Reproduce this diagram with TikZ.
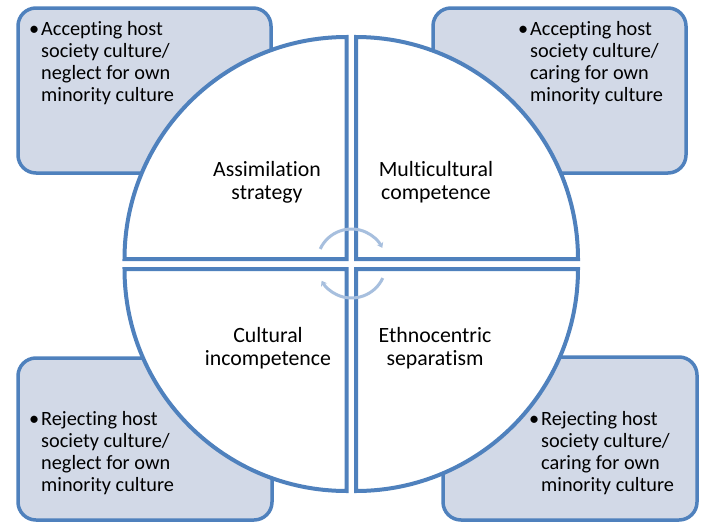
\documentclass[tikz,border=0pt]{standalone}
\usepackage{fontspec}
\setmainfont{Carlito}[Ligatures=NoCommon]
\usetikzlibrary{arrows.meta}
\definecolor{MainBlue}{RGB}{79,129,189}
\definecolor{BoxFill}{RGB}{210,217,231}
\definecolor{ArrowBlue}{RGB}{167,191,222}
\tikzset{
  cornerbox/.style={draw=MainBlue, fill=BoxFill, line width=3.5pt, rounded corners=18pt},
  quad/.style={draw=MainBlue, fill=white, line width=4pt, line join=miter},
  cyclearrow/.style={draw=ArrowBlue, line width=3pt, -{Stealth[length=5pt,width=7pt]}},
  bullettext/.style={align=left, inner sep=0pt, anchor=west, text=black, font=\fontsize{20.3}{22}\selectfont},
  quadlabel/.style={align=center, inner sep=0pt, text=black, font=\fontsize{21.8}{23}\selectfont}
}
\newcommand{\bul}{\llap{•\hspace{2pt}}}
\begin{document}
\begin{tikzpicture}[x=1pt,y=-1pt]
\useasboundingbox (0,0) rectangle (703,522);
% corner boxes
\draw[cornerbox] (18,8) rectangle (271,173);
\draw[cornerbox] (433,8) rectangle (686,173);
\draw[cornerbox] (18,358) rectangle (272,520);
\draw[cornerbox] (443,357) rectangle (697,520);
% quadrants
\draw[quad] (346.5,259) -- (124.5,259) arc[start angle=180,end angle=270,radius=222] -- cycle;
\draw[quad] (356,259) -- (356,37) arc[start angle=270,end angle=360,radius=222] -- cycle;
\draw[quad] (356,269) -- (578,269) arc[start angle=0,end angle=90,radius=222] -- cycle;
\draw[quad] (346.5,269) -- (346.5,491) arc[start angle=90,end angle=180,radius=222] -- cycle;
% central cycle arrows
\coordinate (cyc) at (351.5,263.5);
\draw[cyclearrow] ([shift={(205:34.5)}]cyc) arc[start angle=205,end angle=333,radius=34.5];
\draw[cyclearrow] ([shift={(25:34.5)}]cyc) arc[start angle=25,end angle=150,radius=34.5];
% quadrant labels
\node[quadlabel] (assim) at (267,182) {Assimilation\\strategy};
\node[quadlabel] (multi) at (436,182) {Multicultural\\competence};
\node[quadlabel] (incomp) at (268,348) {Cultural\\incompetence};
\node[quadlabel] (ethno) at (435,348) {Ethnocentric\\separatism};
% box texts
\node[bullettext] (tl) at (41,63) {\bul Accepting host\\society culture/\\neglect for own\\minority culture};
\node[bullettext] (tr) at (530,63) {\bul Accepting host\\society culture/\\caring for own\\minority culture};
\node[bullettext] (bl) at (41,453) {\bul Rejecting host\\society culture/\\neglect for own\\minority culture};
\node[bullettext] (br) at (541,453) {\bul Rejecting host\\society culture/\\caring for own\\minority culture};
\end{tikzpicture}
\end{document}
